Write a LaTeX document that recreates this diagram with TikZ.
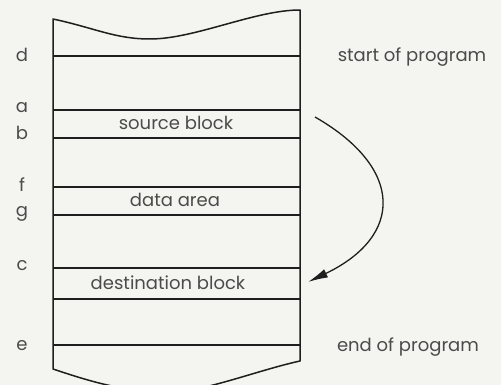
\documentclass[tikz,border=0pt]{standalone}
\usepackage{fontspec}
\setmainfont{Poppins}
\usepackage{tikz}
\usetikzlibrary{arrows.meta,positioning}
\usepackage{xcolor}
\definecolor{memink}{HTML}{1E1E1E}
\definecolor{mempaper}{HTML}{F4F4F1}
\tikzset{
  memline/.style={
    draw=memink,
    line width=1.5pt,
    line join=round
  },
  addr/.style={
    font=\fontsize{18}{22}\selectfont,
    text=memink!80,
    anchor=base,
    inner sep=0pt
  },
  blocktext/.style={
    font=\fontsize{18}{22}\selectfont,
    text=memink!80,
    anchor=base,
    inner sep=0pt
  },
  arrow/.style={
    -{Latex[length=20pt,width=9pt]},
    line width=1.3pt,
    draw=memink
  }
}

\begin{document}
\begin{tikzpicture}[x=1pt,y=-1pt]
\useasboundingbox (0,0) rectangle (501,385);
\fill[mempaper] (0,0) rectangle (501,385);
\clip (0,0) rectangle (501,385);
% memory column with torn ends
\draw[memline] (53,19) .. controls (95,28) and (115,39) .. (150,39)
  .. controls (195,39) and (255,10) .. (300,10) -- (300,361)
  .. controls (250,372) and (190,398) .. (150,392)
  .. controls (110,388) and (80,378) .. (53,369) -- cycle;
\foreach \y in {56,110,138,187,215,268,299,345} {
  \draw[memline] (53,\y) -- (300,\y);
}
% addresses
\foreach \y/\t in {62/d,113/a,140/b,192/f,216/g,270/c,350/e} {
  \node[addr] (addr-\t) at (22,\y) {\t};
}
\node[blocktext] (src) at (176,130) {source block};
\node[blocktext] (data) at (175,207) {data area};
\node[blocktext] (dst) at (168,289) {destination block};
\node[blocktext] (start) at (412,62) {start of program};
\node[blocktext] (end) at (408,351) {end of program};
% block move
\coordinate (move-from) at (315,117);
\coordinate (move-to) at (308,282);
\draw[arrow] (move-from) .. controls (404,168) and (404,236) .. (move-to);
\end{tikzpicture}
\end{document}
